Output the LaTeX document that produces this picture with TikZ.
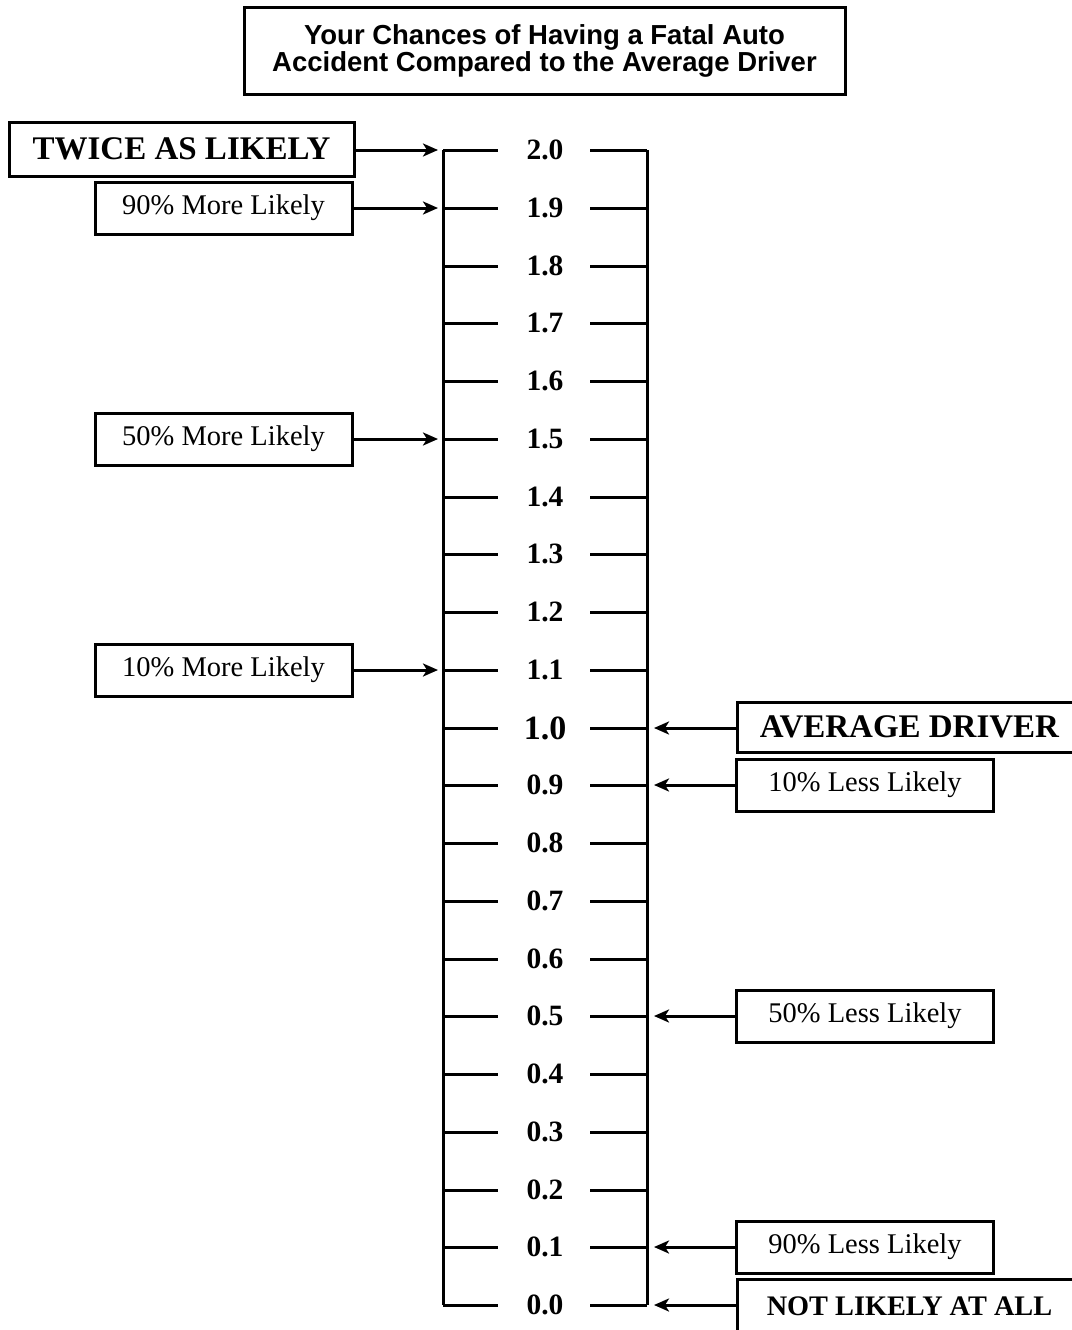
\documentclass[tikz,border=0pt]{standalone}
\usepackage{fontspec}
\setmainfont{Liberation Serif}
\newfontfamily\titlefont{Liberation Sans}
\usetikzlibrary{arrows.meta}
\tikzset{
  lw/.style={line width=3pt},
  bigbox/.style={draw,lw,minimum width=345pt,minimum height=54pt,inner sep=0pt,font=\fontsize{33}{35}\selectfont\bfseries},
  smallbox/.style={draw,lw,minimum width=257pt,minimum height=52pt,inner sep=0pt,font=\fontsize{28.5}{30}\selectfont},
  numlbl/.style={inner sep=0pt,font=\fontsize{29.5}{31}\selectfont\bfseries},
  tick/.style={lw},
  arr/.style={lw,-{Stealth[length=15pt,width=13pt,inset=4pt]}},
}
\begin{document}
\begin{tikzpicture}[x=1pt,y=-1pt]
\useasboundingbox (0,0) rectangle (1071,1330);
% title
\node[draw,lw,minimum width=601pt,minimum height=86pt,align=center,
  font=\titlefont\bfseries\fontsize{27.5}{26.5}\selectfont] (title) at (544.5,51)
  {Your Chances of Having a Fatal Auto\\Accident Compared to the Average Driver};
% scale
\foreach \k/\lab in {20/2.0,19/1.9,18/1.8,17/1.7,16/1.6,15/1.5,14/1.4,13/1.3,12/1.2,11/1.1,9/0.9,8/0.8,7/0.7,6/0.6,5/0.5,4/0.4,3/0.3,2/0.2,1/0.1,0/0.0}{
  \pgfmathsetmacro{\yy}{round(150+57.75*(20-\k))}
  \node[numlbl] (v\k) at (545,\yy) {\lab};
  \coordinate (L\k) at (443,\yy);
  \coordinate (R\k) at (647,\yy);
}
\node[numlbl,font=\fontsize{34}{36}\selectfont\bfseries] (v10) at (545,728) {1.0};
\coordinate (L10) at (443,728);
\coordinate (R10) at (647,728);
\draw[lw] (L20) -- (L0);
\draw[lw] (R20) -- (R0);
\foreach \k in {0,...,20}{
  \draw[tick] (L\k) -- ++(55,0);
  \draw[tick] (R\k) -- ++(-57,0);
}
% left boxes
\node[bigbox] (twice) at (181.5,149) {TWICE AS LIKELY};
\node[smallbox] (m90) at (223.5,208) {90\% More Likely};
\node[smallbox] (m50) at (223.5,439) {50\% More Likely};
\node[smallbox] (m10) at (223.5,670) {10\% More Likely};
\draw[arr,shorten >=5pt] (twice.east |- L20) -- (L20);
\draw[arr,shorten >=5pt] (m90.east) -- (L19);
\draw[arr,shorten >=5pt] (m50.east) -- (L15);
\draw[arr,shorten >=5pt] (m10.east) -- (L11);
% right boxes
\node[bigbox,minimum height=50pt] (avg) at (909.5,727) {AVERAGE DRIVER};
\node[smallbox] (l10) at (865,785) {10\% Less Likely};
\node[smallbox] (l50) at (865,1016) {50\% Less Likely};
\node[smallbox] (l90) at (865,1247) {90\% Less Likely};
\node[bigbox,font=\fontsize{28.3}{30}\selectfont\bfseries] (notl) at (909.5,1306) {NOT LIKELY AT ALL};
\draw[arr,shorten >=7pt] (avg.west |- R10) -- (R10);
\draw[arr,shorten >=7pt] (l10.west) -- (R9);
\draw[arr,shorten >=7pt] (l50.west) -- (R5);
\draw[arr,shorten >=7pt] (l90.west) -- (R1);
\draw[arr,shorten >=7pt] (notl.west |- R0) -- (R0);
\end{tikzpicture}
\end{document}
